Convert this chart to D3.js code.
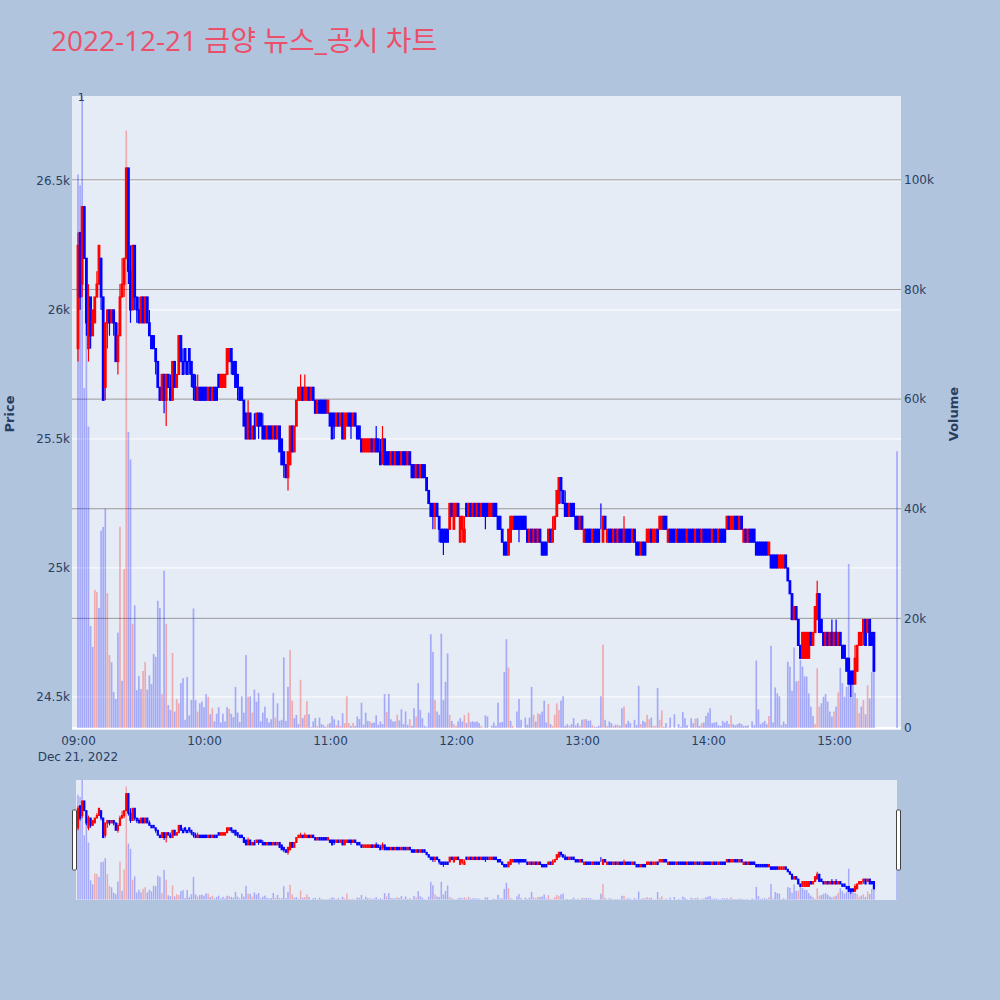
<!DOCTYPE html>
<html><head><meta charset="utf-8">
<script src="https://cdn.jsdelivr.net/npm/d3@7"></script>
<style>body{margin:0;background:#B0C4DE;} svg{display:block;font-family:Verdana,"DejaVu Sans",sans-serif;}</style>
</head><body><svg id="c" width="1000" height="1000"></svg>
<script>
const titleText = "2022-12-21 금양 뉴스_공시 차트";
const sessionStart = new Date(2022, 11, 21, 9, 0);
const closingAuction = new Date(2022, 11, 21, 15, 30);
const priceTicks = [24500, 25000, 25500, 26000, 26500];
const volumeTicks = [0, 20000, 40000, 60000, 80000, 100000];
const timeTickLabels = ["09:00","10:00","11:00","12:00","13:00","14:00","15:00"];
const newsLabels = ["1"];
const newsTimes = ["09:02"];

const opens = [
25850,26300,26100,26400,26200,25850,26050,25900,25950,26050,
26100,26200,26050,25700,25950,26000,25950,26000,25950,25800,
25900,26050,26100,26200,26550,26150,26000,26250,26050,26000,
25950,26050,25950,26050,25950,25900,25900,25850,25800,25700,
25650,25750,25650,25750,25700,25650,25800,25700,25750,25900,
25800,25850,25800,25850,25800,25750,25700,25650,25700,25700,
25700,25700,25650,25700,25650,25700,25700,25750,25700,25700,
25700,25750,25800,25850,25800,25800,25750,25700,25700,25650,
25600,25500,25600,25500,25550,25550,25600,25600,25550,25550,
25500,25550,25550,25500,25550,25500,25550,25500,25450,25400,
25350,25400,25550,25450,25550,25650,25650,25700,25650,25650,
25700,25650,25700,25650,25600,25650,25650,25650,25650,25600,
25600,25600,25600,25550,25600,25550,25600,25500,25550,25600,
25600,25550,25600,25550,25550,25500,25450,25450,25450,25450,
25500,25450,25500,25500,25450,25450,25500,25450,25450,25400,
25450,25400,25450,25450,25400,25450,25450,25400,25450,25400,
25400,25350,25400,25350,25400,25400,25350,25300,25250,25250,
25200,25250,25200,25150,25150,25150,25150,25150,25250,25150,
25200,25250,25100,25150,25100,25250,25200,25250,25200,25250,
25200,25250,25200,25250,25250,25250,25200,25200,25250,25250,
25200,25200,25150,25100,25100,25050,25100,25150,25200,25200,
25200,25200,25200,25200,25150,25100,25150,25100,25150,25100,
25150,25100,25100,25100,25100,25150,25100,25150,25200,25250,
25350,25300,25250,25250,25200,25250,25250,25200,25200,25150,
25200,25100,25150,25150,25150,25100,25150,25150,25150,25150,
25100,25200,25100,25150,25150,25100,25150,25100,25150,25150,
25100,25150,25150,25150,25100,25150,25100,25100,25050,25100,
25100,25100,25100,25150,25100,25100,25150,25150,25150,25200,
25200,25100,25150,25150,25150,25100,25150,25150,25150,25150,
25100,25150,25150,25150,25100,25150,25150,25100,25150,25150,
25150,25150,25100,25150,25150,25100,25150,25150,25150,25150,
25200,25150,25150,25200,25200,25150,25200,25100,25150,25100,
25150,25150,25150,25100,25100,25100,25100,25100,25100,25050,
25050,25050,25050,25050,25000,25000,25000,25050,25000,24950,
24900,24800,24850,24800,24700,24650,24650,24650,24650,24750,
24700,24750,24800,24900,24800,24750,24700,24750,24700,24750,
24700,24750,24700,24750,24700,24700,24650,24650,24600,24600,
24550,24600,24700,24700,24750,24800,24750,24800,24750,24750,
24700,24700];
const highs = [
26300,26300,26400,26400,26200,26100,26050,26000,26050,26150,
26250,26200,26050,25950,26000,26000,26000,26000,25950,25950,
26100,26200,26200,26550,26550,26250,26250,26250,26050,26050,
26050,26050,26050,26050,26000,25900,25900,25850,25800,25700,
25750,25750,25750,25750,25750,25800,25800,25750,25900,25900,
25850,25850,25800,25850,25800,25750,25750,25750,25700,25700,
25700,25700,25700,25700,25700,25700,25700,25750,25750,25750,
25750,25850,25850,25850,25800,25800,25750,25700,25700,25650,
25600,25650,25600,25550,25600,25600,25600,25600,25600,25550,
25550,25550,25550,25550,25550,25550,25550,25500,25450,25400,
25450,25550,25550,25550,25650,25700,25750,25700,25750,25700,
25700,25700,25700,25650,25650,25650,25650,25650,25650,25650,
25600,25600,25600,25600,25600,25600,25600,25600,25600,25600,
25600,25600,25600,25550,25550,25500,25500,25500,25500,25500,
25500,25500,25550,25500,25500,25550,25500,25450,25450,25450,
25450,25450,25450,25450,25450,25450,25450,25450,25450,25400,
25400,25400,25400,25400,25400,25400,25350,25300,25250,25250,
25250,25250,25200,25150,25150,25150,25150,25250,25250,25250,
25250,25250,25200,25200,25200,25250,25250,25250,25250,25250,
25250,25250,25250,25250,25250,25250,25250,25250,25250,25250,
25200,25200,25150,25100,25100,25150,25200,25200,25200,25200,
25200,25200,25200,25200,25150,25150,25150,25150,25150,25150,
25150,25100,25100,25100,25150,25150,25200,25200,25300,25350,
25350,25300,25300,25250,25250,25250,25250,25200,25200,25200,
25200,25150,25150,25150,25150,25150,25150,25150,25150,25250,
25200,25200,25150,25150,25150,25150,25150,25150,25150,25150,
25200,25150,25150,25150,25150,25150,25100,25100,25100,25100,
25100,25150,25150,25150,25150,25150,25150,25200,25200,25200,
25200,25150,25150,25150,25150,25150,25150,25150,25150,25150,
25150,25150,25150,25150,25150,25150,25150,25150,25150,25150,
25150,25150,25150,25150,25150,25150,25150,25150,25150,25200,
25200,25200,25200,25200,25200,25200,25200,25150,25150,25150,
25150,25150,25150,25100,25100,25100,25100,25100,25100,25100,
25050,25050,25050,25050,25050,25050,25050,25050,25000,24950,
24900,24850,24850,24800,24700,24750,24750,24750,24750,24750,
24750,24850,24950,24900,24800,24750,24750,24750,24750,24800,
24750,24800,24750,24750,24700,24700,24650,24650,24600,24600,
24700,24700,24750,24750,24800,24800,24800,24800,24750,24750,
24700,24700];
const lows = [
25800,26000,26050,26200,25900,25800,25850,25900,25950,26050,
26100,26000,25650,25650,25850,25900,25950,25900,25800,25750,
25900,26050,26050,26200,26100,25950,26000,26000,25950,25950,
25950,25950,25950,25950,25900,25850,25850,25750,25700,25650,
25650,25600,25550,25700,25650,25650,25700,25700,25750,25800,
25750,25750,25750,25750,25700,25650,25650,25650,25650,25650,
25650,25650,25650,25650,25650,25650,25650,25700,25700,25700,
25700,25750,25800,25750,25750,25700,25650,25650,25650,25550,
25500,25500,25500,25500,25500,25550,25500,25550,25500,25500,
25500,25500,25500,25500,25500,25500,25450,25400,25350,25350,
25300,25400,25450,25450,25550,25650,25650,25650,25650,25650,
25650,25650,25650,25600,25600,25600,25600,25600,25600,25600,
25550,25500,25500,25550,25550,25550,25500,25500,25550,25550,
25500,25550,25550,25500,25500,25450,25450,25450,25450,25450,
25450,25450,25450,25450,25400,25400,25400,25400,25400,25400,
25400,25400,25400,25400,25400,25400,25400,25400,25400,25350,
25350,25350,25350,25350,25350,25350,25300,25250,25200,25150,
25150,25200,25100,25100,25050,25100,25100,25150,25200,25150,
25200,25200,25100,25100,25100,25200,25200,25200,25200,25200,
25200,25200,25200,25200,25150,25200,25200,25200,25200,25200,
25150,25150,25100,25050,25050,25050,25100,25150,25150,25150,
25100,25150,25150,25150,25100,25100,25100,25100,25100,25100,
25100,25050,25050,25050,25100,25100,25100,25150,25200,25250,
25250,25250,25200,25200,25200,25200,25200,25150,25150,25150,
25150,25100,25100,25100,25100,25100,25100,25100,25100,25150,
25100,25150,25100,25100,25100,25100,25100,25100,25100,25100,
25100,25100,25100,25100,25100,25100,25050,25050,25050,25050,
25050,25100,25100,25100,25100,25100,25100,25150,25150,25150,
25150,25100,25100,25100,25100,25100,25100,25100,25100,25100,
25100,25100,25100,25100,25100,25100,25100,25100,25100,25100,
25100,25100,25100,25100,25100,25100,25100,25100,25100,25150,
25150,25150,25150,25150,25150,25150,25150,25100,25100,25100,
25100,25100,25100,25050,25050,25050,25050,25050,25050,25050,
25000,25000,25000,25000,25000,25000,25000,25000,24950,24900,
24800,24800,24800,24700,24650,24650,24650,24650,24650,24700,
24700,24750,24800,24750,24750,24700,24700,24700,24700,24700,
24700,24700,24700,24700,24650,24650,24600,24550,24500,24550,
24550,24600,24700,24700,24700,24700,24750,24700,24700,24600,
24700,24700];
const closes = [
26250,26050,26400,26200,25950,26050,25900,26000,26050,26100,
26250,26050,25650,25950,26000,25950,26000,25950,25800,25900,
26050,26100,26200,26550,26150,26000,26250,26050,26000,25950,
26050,25950,26050,25950,25900,25850,25850,25800,25700,25650,
25750,25650,25750,25700,25650,25800,25700,25750,25900,25800,
25750,25800,25750,25800,25750,25700,25650,25700,25650,25650,
25650,25650,25700,25650,25700,25650,25650,25700,25750,25750,
25750,25850,25850,25800,25750,25700,25700,25650,25650,25550,
25500,25600,25500,25550,25500,25600,25550,25550,25500,25500,
25550,25500,25500,25550,25500,25550,25450,25400,25400,25350,
25450,25550,25450,25550,25650,25700,25700,25650,25700,25700,
25650,25700,25650,25600,25650,25600,25600,25600,25600,25650,
25550,25500,25550,25600,25550,25600,25500,25600,25600,25550,
25550,25600,25550,25500,25500,25450,25500,25500,25500,25500,
25450,25500,25450,25450,25400,25500,25400,25400,25400,25450,
25400,25450,25400,25400,25450,25400,25400,25450,25400,25350,
25350,25400,25350,25400,25350,25350,25300,25250,25200,25200,
25250,25200,25150,25100,25100,25100,25100,25250,25200,25250,
25250,25200,25200,25200,25150,25200,25250,25200,25250,25200,
25250,25200,25250,25200,25200,25200,25250,25250,25200,25200,
25150,25150,25100,25050,25050,25150,25200,25200,25150,25150,
25150,25150,25150,25150,25100,25150,25100,25150,25100,25150,
25100,25050,25050,25050,25150,25100,25150,25200,25300,25350,
25300,25250,25200,25200,25250,25200,25200,25150,25150,25200,
25150,25150,25100,25100,25100,25150,25100,25100,25100,25150,
25200,25150,25150,25100,25100,25150,25100,25150,25100,25100,
25150,25100,25100,25100,25150,25100,25050,25050,25100,25050,
25050,25150,25150,25100,25150,25150,25100,25200,25200,25150,
25150,25150,25100,25100,25100,25150,25100,25100,25100,25100,
25150,25100,25100,25100,25150,25100,25100,25150,25100,25100,
25100,25100,25150,25100,25100,25150,25100,25100,25100,25200,
25150,25200,25200,25150,25150,25200,25150,25150,25100,25150,
25100,25100,25100,25050,25050,25050,25050,25050,25050,25100,
25000,25000,25000,25000,25050,25050,25050,25000,24950,24900,
24800,24850,24800,24700,24650,24750,24750,24750,24750,24700,
24750,24850,24900,24750,24750,24700,24750,24700,24750,24700,
24750,24700,24750,24700,24650,24650,24600,24550,24550,24550,
24650,24700,24750,24750,24800,24700,24800,24700,24700,24600,
24700,24700];
const volumes = [
101000,99000,130000,62000,75000,55000,18600,14800,25200,24800,
21900,36000,36700,40000,24600,13300,12000,6600,5300,17400,
36700,8600,29000,109000,54000,49000,19000,22400,6900,9500,
7100,10400,12000,7000,9600,8000,13500,13000,23200,21900,
6200,28700,19000,4200,3300,13700,3000,5300,4500,8200,
9100,1500,9300,2300,5100,21800,5100,3000,4500,4800,
3800,6200,5700,2500,3600,1200,2600,3800,1000,2600,
1200,3800,3500,2600,2000,7500,2800,1100,5800,2800,
13300,5700,5800,2800,7000,4800,6400,1200,2800,3900,
1800,1000,1600,6400,1900,4500,1300,1500,12900,1300,
7500,14200,5000,1800,2400,700,8800,1800,2400,4900,
2500,200,1200,1800,400,1900,700,500,200,700,
900,2200,1600,500,1400,400,2700,900,5800,900,
400,900,400,2100,1600,4600,600,2800,1300,1200,
900,1000,2300,600,1200,700,6200,2900,6200,1600,
1200,1200,2400,1400,3400,700,3000,600,1600,400,
3600,2100,8200,3300,1800,400,200,2800,17100,13900,
5100,3000,2400,17200,5100,8400,13600,2400,1300,700,
400,1200,1800,1200,2400,900,2800,1100,1200,1100,
1200,900,400,100,2300,2100,0,400,1000,400,
4600,1000,1100,10200,16200,11000,1300,400,0,3000,
5300,1500,0,1900,600,1900,7500,2400,1200,2700,
2500,3000,5000,1000,4400,700,400,2400,4500,3300,
5000,5800,400,700,400,700,1800,500,900,400,
1500,1600,1600,1300,1400,500,200,200,400,5800,
15200,1500,400,1200,900,400,600,600,400,3600,
3900,700,1300,900,100,1500,500,7700,700,1300,
1100,2400,1600,1900,400,400,7300,1500,3200,200,
900,100,1900,0,2500,0,700,200,2900,1800,
500,0,1800,900,1700,1800,400,900,1000,2200,
2800,3600,900,1000,1100,500,400,1300,1000,1300,
700,2300,700,500,700,900,700,400,400,500,
0,1200,500,12300,3400,700,1000,1300,700,2200,
15000,1000,7400,6300,5800,500,1200,700,12100,11200,
6800,14700,8500,8600,12400,11200,9400,9400,6300,3900,
2200,700,10900,3900,4500,5700,6200,4800,3000,2100,
3000,3900,6500,11000,8200,5700,7500,29900,10000,10600,
6400,5400,2700,3900,5100,2500,7800,5400,10200,11900,
0,50500];
const volumeUp = [
0,0,0,0,0,0,0,0,1,1, 0,0,0,0,1,1,0,0,0,0, 1,0,1,1,0,0,1,0,0,0,
0,1,1,0,0,0,0,0,0,0, 1,0,1,0,0,1,0,1,1,0, 0,0,0,0,0,0,0,1,0,0,
0,0,1,0,1,0,0,0,0,0, 0,0,1,0,0,0,0,0,0,0, 0,1,0,1,0,0,0,0,0,0,
0,0,0,0,1,0,0,0,0,0, 0,1,1,0,0,0,1,0,1,1, 0,1,0,0,1,0,0,0,0,1,
0,0,0,1,0,1,0,1,1,1, 0,1,0,0,0,0,0,0,0,1, 0,0,0,0,0,0,0,1,0,0,
0,0,1,0,0,0,0,0,1,0, 0,1,0,0,0,0,0,0,0,0, 1,0,0,0,0,0,0,1,0,1,
1,0,0,0,1,0,1,0,0,0, 0,0,1,0,0,0,0,0,0,0, 0,0,0,0,0,1,0,1,0,0,
0,0,0,0,0,0,0,1,0,1, 0,0,0,0,1,0,1,1,1,1, 0,0,0,0,1,0,0,0,0,1,
0,1,0,0,0,1,0,0,0,0, 1,0,1,0,0,1,0,1,0,0, 1,0,0,0,1,0,0,0,1,0,
0,1,1,0,1,1,0,1,1,0, 0,1,0,0,0,0,0,0,0,0, 0,0,0,0,1,0,0,1,0,0,
0,0,0,0,0,0,0,0,0,0, 0,1,0,0,0,0,0,0,0,0, 0,0,0,0,0,0,0,0,0,1,
0,0,0,0,0,0,0,0,0,0, 0,0,0,1,0,0,0,0,0,0, 0,1,1,1,0,0,0,0,0,0,
1,0,1,0,0,0,0,0,0,0, 0,1,1,0,1,0,1,0,0,0, 0,0];

const n = opens.length;
const times = opens.map((_, i) => i < n - 1 ? d3.timeMinute.offset(sessionStart, i) : closingAuction);
const rows = d3.range(n).map(i => ({t: times[i], o: opens[i], h: highs[i], l: lows[i], c: closes[i], v: volumes[i], up: volumeUp[i]}));
const parseHM = s => { const [hh, mm] = s.split(":").map(Number); return new Date(2022, 11, 21, hh, mm); };

const UP = "#FF0000", DOWN = "#0000FF";
const VUP = "rgba(255,0,0,0.28)", VDOWN = "rgba(0,0,255,0.28)";
const TXT = "#2a3f5f";
const FONT = "Verdana,'DejaVu Sans',sans-serif";

const svg = d3.select("#c");
const P = {l: 72, r: 901, t: 96, b: 730};
const S = {l: 76, r: 897, t: 780, b: 900};

const x = d3.scaleTime().domain([new Date(2022, 11, 21, 8, 57, 9), new Date(2022, 11, 21, 15, 31, 54)]).range([P.l, P.r]);
const yP = d3.scaleLinear().domain([24372, 26829]).range([P.b, P.t]);
const yV = d3.scaleLinear().domain([0, 115300]).range([728, P.t]);

// title
svg.append("text").attr("x", 51).attr("y", 51).attr("font-size", 28)
  .attr("font-family", "'Open Sans','Noto Sans CJK KR',sans-serif")
  .attr("fill", "#EC4F6A").text(titleText);

const defs = svg.append("defs");
defs.append("clipPath").attr("id", "cp").append("rect").attr("x", P.l).attr("y", P.t).attr("width", P.r - P.l).attr("height", P.b - P.t);
defs.append("clipPath").attr("id", "cs").append("rect").attr("x", S.l).attr("y", S.t).attr("width", S.r - S.l).attr("height", S.b - S.t);

svg.append("rect").attr("x", P.l).attr("y", P.t).attr("width", P.r - P.l).attr("height", P.b - P.t).attr("fill", "#E5ECF6");

// price grid (white)
svg.append("g").selectAll("line").data(priceTicks).join("line")
  .attr("x1", P.l).attr("x2", P.r).attr("y1", d => yP(d)).attr("y2", d => yP(d))
  .attr("stroke", "#fff").attr("stroke-width", 1);
// volume grid (gray) + white zero line
svg.append("g").selectAll("line").data(volumeTicks).join("line")
  .attr("x1", P.l).attr("x2", P.r).attr("y1", d => yV(d)).attr("y2", d => yV(d))
  .attr("stroke", d => d === 0 ? "#fff" : "#9a9a9a").attr("stroke-width", d => d === 0 ? 2 : 1);

function drawSeries(g, xs, yp, yv, bw, body, sw) {
  g.append("g").selectAll("rect").data(rows.filter(d => d.v > 0)).join("rect")
    .attr("x", d => xs(d.t) - bw / 2).attr("width", bw)
    .attr("y", d => yv(d.v)).attr("height", d => yv(0) - yv(d.v))
    .attr("fill", d => d.up ? VUP : VDOWN);
  const cg = g.append("g").selectAll("g").data(rows).join("g");
  const col = d => d.c > d.o ? UP : DOWN;
  cg.append("line").attr("x1", d => xs(d.t)).attr("x2", d => xs(d.t))
    .attr("y1", d => yp(d.h)).attr("y2", d => yp(d.l)).attr("stroke", col).attr("stroke-width", sw);
  cg.append("rect").attr("x", d => xs(d.t) - body / 2).attr("width", body)
    .attr("y", d => yp(Math.max(d.o, d.c))).attr("height", d => Math.abs(yp(d.o) - yp(d.c)))
    .attr("fill", col).attr("stroke", col).attr("stroke-width", sw);
}

const main = svg.append("g").attr("clip-path", "url(#cp)");
drawSeries(main, x, yP, yV, 1.7, 1.6, 1.2);

// axes
const fmt = d3.format("~s");
const ax1 = svg.append("g").attr("transform", `translate(${P.l},0)`)
  .call(d3.axisLeft(yP).tickValues(priceTicks).tickFormat(fmt).tickSize(0).tickPadding(2));
const ax2 = svg.append("g").attr("transform", `translate(${P.r},0)`)
  .call(d3.axisRight(yV).tickValues(volumeTicks).tickFormat(fmt).tickSize(0).tickPadding(3));
const ax3 = svg.append("g").attr("transform", `translate(0,${P.b})`)
  .call(d3.axisBottom(x).tickValues(timeTickLabels.map(parseHM)).tickFormat(d3.timeFormat("%H:%M")).tickSize(0).tickPadding(6));
[ax1, ax2, ax3].forEach(a => {
  a.select(".domain").remove();
  a.selectAll("text").attr("fill", TXT).attr("font-size", 12).attr("font-family", FONT);
});
svg.append("text").attr("x", x(parseHM("09:00"))).attr("y", 761).attr("text-anchor", "middle")
  .attr("fill", TXT).attr("font-size", 12).attr("font-family", FONT).text("Dec 21, 2022");

svg.append("text").attr("transform", "translate(14,414) rotate(-90)").attr("text-anchor", "middle")
  .attr("fill", TXT).attr("font-size", 13).attr("font-weight", "bold").attr("font-family", FONT).text("Price");
svg.append("text").attr("transform", "translate(958,414) rotate(-90)").attr("text-anchor", "middle")
  .attr("fill", TXT).attr("font-size", 13).attr("font-weight", "bold").attr("font-family", FONT).text("Volume");

// news annotation
svg.append("g").selectAll("text").data(newsLabels).join("text")
  .attr("x", (d, i) => x(parseHM(newsTimes[i])) - 1).attr("y", 101).attr("text-anchor", "middle")
  .attr("fill", TXT).attr("font-size", 11).attr("font-family", FONT).text(d => d);

// range slider
svg.append("rect").attr("x", S.l).attr("y", S.t).attr("width", S.r - S.l).attr("height", S.b - S.t).attr("fill", "#E5ECF6");
const yPs = d3.scaleLinear().domain(yP.domain()).range([S.b, S.t]);
const yVs = d3.scaleLinear().domain(yV.domain()).range([S.b - 2 * (S.b - S.t) / (P.b - P.t), S.t]);
const sl = svg.append("g").attr("clip-path", "url(#cs)");
drawSeries(sl, x, yPs, yVs, 1.5, 1.2, 1);
[[72.5, 810], [896.5, 810]].forEach(([hx, hy]) => {
  svg.append("rect").attr("x", hx).attr("y", hy).attr("width", 4).attr("height", 60)
    .attr("rx", 1).attr("fill", "#fff").attr("stroke", "#444").attr("stroke-width", 1);
});
</script></body></html>
